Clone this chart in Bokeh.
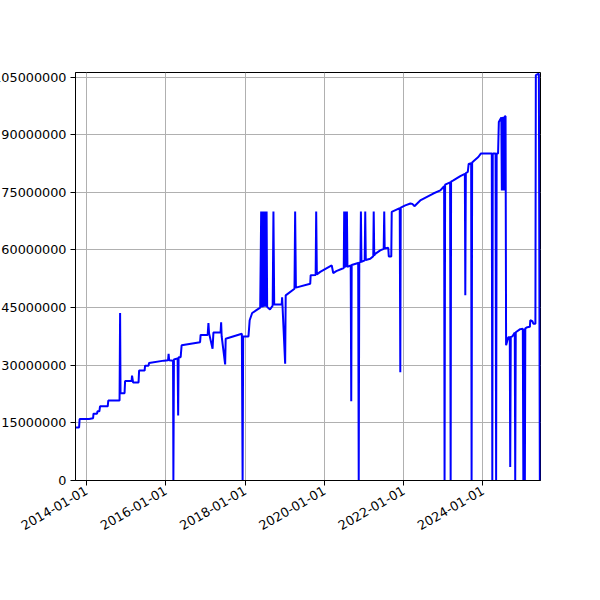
import math
import pandas as pd
from bokeh.plotting import figure
from bokeh.models import Range1d, FixedTicker, DatetimeTickFormatter, BasicTickFormatter
from bokeh.embed import file_html
from bokeh.resources import INLINE

dates = [
    "2013-09-20", "2013-10-23", "2013-10-28", "2014-01-23", "2014-03-01", "2014-03-05",
    "2014-04-06", "2014-04-11", "2014-04-28", "2014-05-04", "2014-07-14", "2014-07-19",
    "2014-10-31", "2014-11-05", "2014-11-09", "2014-12-16", "2014-12-21", "2015-02-19",
    "2015-02-23", "2015-03-05", "2015-04-24", "2015-04-29", "2015-06-19", "2015-06-23",
    "2015-07-25", "2015-07-30", "2015-12-13", "2016-01-21", "2016-01-26", "2016-01-31",
    "2016-03-07", "2016-03-10", "2016-03-15", "2016-04-18", "2016-04-23", "2016-04-27",
    "2016-05-16", "2016-05-25", "2016-11-11", "2016-11-16", "2017-01-20", "2017-01-27",
    "2017-02-02", "2017-03-06", "2017-03-14", "2017-05-19", "2017-05-24", "2017-05-29",
    "2017-06-30", "2017-07-05", "2017-12-01", "2017-12-08", "2017-12-13", "2018-01-31",
    "2018-02-11", "2018-03-06", "2018-05-19", "2018-05-28", "2018-06-01", "2018-06-06",
    "2018-06-11", "2018-06-20", "2018-06-24", "2018-07-04", "2018-07-08", "2018-07-17",
    "2018-07-22", "2018-08-17", "2018-09-11", "2018-09-18", "2018-09-25", "2018-12-03",
    "2018-12-07", "2019-01-04", "2019-01-09", "2019-03-31", "2019-04-06", "2019-04-13",
    "2019-08-23", "2019-08-27", "2019-10-12", "2019-10-17", "2019-10-23", "2019-11-23",
    "2020-03-08", "2020-03-22", "2020-04-19", "2020-06-27", "2020-07-01", "2020-07-06",
    "2020-07-15", "2020-07-20", "2020-07-26", "2020-07-31", "2020-08-30", "2020-09-04",
    "2020-09-08", "2020-11-07", "2020-11-12", "2020-11-17", "2020-11-28", "2020-12-02",
    "2020-12-07", "2021-01-06", "2021-01-11", "2021-01-16", "2021-02-26", "2021-03-26",
    "2021-03-30", "2021-04-04", "2021-04-13", "2021-05-29", "2021-06-30", "2021-07-05",
    "2021-07-09", "2021-08-11", "2021-08-16", "2021-09-08", "2021-09-12", "2021-11-25",
    "2021-11-30", "2021-12-04", "2022-01-15", "2022-03-03", "2022-03-21", "2022-04-09",
    "2022-06-02", "2022-09-30", "2022-12-04", "2023-01-08", "2023-01-12", "2023-01-17",
    "2023-03-04", "2023-03-09", "2023-03-13", "2023-04-03", "2023-06-06", "2023-07-18",
    "2023-07-22", "2023-07-27", "2023-08-14", "2023-08-22", "2023-09-14", "2023-09-18",
    "2023-09-23", "2023-10-13", "2023-11-19", "2023-12-12", "2024-03-22", "2024-03-27",
    "2024-03-31", "2024-04-26", "2024-05-01", "2024-05-06", "2024-05-19", "2024-05-26",
    "2024-06-18", "2024-06-23", "2024-06-27", "2024-07-04", "2024-07-08", "2024-07-16",
    "2024-07-20", "2024-07-27", "2024-08-01", "2024-08-21", "2024-09-04", "2024-09-08",
    "2024-09-13", "2024-09-27", "2024-10-20", "2024-10-24", "2024-10-29", "2024-12-09",
    "2025-01-02", "2025-01-07", "2025-01-12", "2025-01-21", "2025-01-25", "2025-02-13",
    "2025-03-08", "2025-03-12", "2025-03-31", "2025-04-09", "2025-04-28", "2025-05-02",
    "2025-05-30", "2025-06-08", "2025-06-14",
]

values_millions = [
    13.8, 13.8, 16.0, 16.0, 16.2, 17.4,
    17.4, 18.0, 18.0, 19.3, 19.3, 20.8,
    20.8, 43.6, 22.7, 22.7, 25.9, 25.9,
    27.3, 25.5, 25.5, 28.6, 28.6, 29.9,
    29.9, 30.6, 31.2, 31.3, 33.0, 31.3,
    31.2, 0.0, 31.5, 31.8, 16.9, 32.1,
    32.1, 35.2, 36.0, 37.9, 37.9, 41.0,
    38.3, 34.3, 38.5, 38.6, 41.2, 37.5,
    30.2, 36.9, 38.2, 0.0, 37.5, 37.5,
    41.7, 43.6, 45.0, 70.0, 45.0, 70.0,
    45.1, 70.0, 45.2, 70.0, 45.2, 70.0,
    45.2, 44.5, 45.5, 70.0, 45.8, 45.8,
    47.7, 30.4, 48.2, 49.9, 70.0, 50.2,
    51.2, 53.4, 53.5, 70.0, 53.6, 54.3,
    56.0, 54.0, 54.5, 55.3, 70.0, 55.4,
    70.0, 55.5, 70.0, 55.6, 56.0, 20.6,
    56.1, 56.6, 0.0, 56.7, 56.9, 70.0,
    56.9, 57.3, 70.0, 57.4, 57.7, 58.4,
    70.0, 58.6, 59.0, 59.9, 60.3, 70.0,
    60.4, 60.6, 58.3, 58.3, 69.9, 70.9,
    28.2, 71.0, 71.6, 72.1, 72.0, 71.4,
    72.9, 74.7, 75.5, 76.6, 0.0, 77.0,
    77.6, 0.0, 77.8, 78.1, 79.2, 79.8,
    48.2, 80.0, 80.3, 82.4, 82.6, 0.0,
    82.8, 83.3, 84.2, 85.1, 85.1, 0.0,
    85.1, 85.1, 0.0, 85.1, 85.1, 93.3,
    94.5, 75.5, 94.6, 75.5, 94.7, 75.5,
    94.8, 94.8, 35.2, 37.3, 37.3, 3.5,
    37.3, 37.5, 38.5, 0.0, 38.6, 39.4,
    39.5, 0.0, 39.5, 0.0, 39.6, 39.9,
    40.0, 41.7, 41.5, 40.8, 40.8, 105.5,
    105.9, 0.0, 0.0,
]

x_tick_labels = ["2014-01-01", "2016-01-01", "2018-01-01", "2020-01-01", "2022-01-01", "2024-01-01"]
y_ticks = [0, 15000000, 30000000, 45000000, 60000000, 75000000, 90000000, 105000000]
y_max = 106200000


def to_ms(s):
    return pd.Timestamp(s).value / 1e6


xs = pd.to_datetime(dates)
ys = [v * 1e6 for v in values_millions]

p = figure(
    output_backend="svg", toolbar_location=None, x_axis_type="datetime",
    frame_width=465, frame_height=408,
    min_border_left=90, min_border_top=72, min_border_right=30, min_border_bottom=20,
    x_range=Range1d(to_ms(dates[0]), to_ms(dates[-1])),
    y_range=Range1d(0, y_max),
    styles={"margin-left": "-15px"},
)
p.background_fill_color = "white"
p.border_fill_color = "white"
p.outline_line_color = "black"
p.outline_line_width = 1
p.outline_line_alpha = 1

p.line(xs, ys, line_color="#0000ff", line_width=2)

p.xaxis.ticker = FixedTicker(ticks=[to_ms(s) for s in x_tick_labels])
p.xaxis.formatter = DatetimeTickFormatter(
    years="%Y-%m-%d", months="%Y-%m-%d", days="%Y-%m-%d", hours="%Y-%m-%d"
)
p.xaxis.major_label_orientation = math.pi / 6
p.yaxis.ticker = FixedTicker(ticks=y_ticks)
p.yaxis.formatter = BasicTickFormatter(use_scientific=False)

for ax in (p.xaxis[0], p.yaxis[0]):
    ax.axis_line_color = "black"
    ax.axis_line_width = 1
    ax.major_tick_line_color = "black"
    ax.major_tick_line_width = 1
    ax.major_tick_out = 5
    ax.major_tick_in = 0
    ax.minor_tick_line_color = None
    ax.major_label_text_font = "DejaVu Sans"
    ax.major_label_text_font_size = "12.8px"
    ax.major_label_text_color = "black"
    ax.major_label_standoff = 4

for g in (p.xgrid[0], p.ygrid[0]):
    g.grid_line_color = "#b0b0b0"
    g.grid_line_width = 1
    g.grid_line_alpha = 1

open("out.html", "w").write(file_html(p, INLINE))
